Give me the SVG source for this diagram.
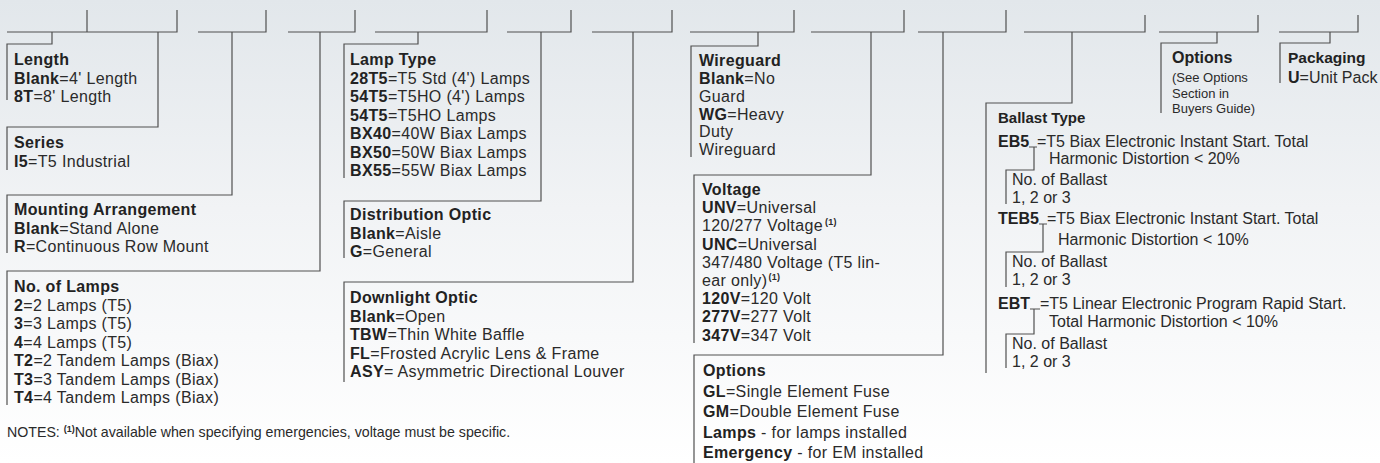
<svg xmlns="http://www.w3.org/2000/svg" width="1380" height="463" viewBox="0 0 1380 463">
<defs>
<linearGradient id="bg" x1="0" y1="0" x2="0" y2="1">
<stop offset="0" stop-color="#e2e7eb"/>
<stop offset="0.45" stop-color="#f1f3f5"/>
<stop offset="1" stop-color="#ffffff"/>
</linearGradient>
<style>
text{font-family:"Liberation Sans",Arial,sans-serif;font-size:16px;fill:#2a2a2a}
.w text{letter-spacing:0.35px}
.b{font-weight:bold;fill:#222}
.h{font-weight:bold;fill:#222}
.s{font-size:13px}
.n{font-size:14.2px}
.sup{font-size:9px;font-weight:bold}
.ln{fill:none;stroke:#505050;stroke-width:1.2}
</style>
</defs>
<rect width="1380" height="463" fill="url(#bg)"/>

<g id="connectors" class="ln">
<path d="M7 32H177V10M87 32V10"/>
<path d="M198 32H266V10"/>
<path d="M288 32H355V10"/>
<path d="M375 32H487V10"/>
<path d="M507 32H571V10"/>
<path d="M592 32H672V10"/>
<path d="M690 32H794V10"/>
<path d="M811 32H904V10"/>
<path d="M918 32H1006V10"/>
<path d="M1024 32H1145V15"/>
<path d="M1159 32H1258V15"/>
<path d="M1279 32H1358V15"/>
<path d="M52 32V44H7V100"/>
<path d="M158 32V127H7V170"/>
<path d="M232 32V195H7V253"/>
<path d="M320 32V271H7V405"/>
<path d="M418 32V44H344V178"/>
<path d="M541 32V201H344V258"/>
<path d="M633 32V282H344V382"/>
<path d="M758 32V46H691V157"/>
<path d="M871 32V175H694V343"/>
<path d="M943 32V355H694V463"/>
<path d="M1072 32V103H986V373"/>
<path d="M1217 32V43H1161V113"/>
<path d="M1330 32V43H1280V83"/>
<path d="M1029 147H1037M1034 147V170H1006V204"/>
<path d="M1039 224H1047M1043 224V252H1006V287"/>
<path d="M1030 309H1040M1034 309V334H1006V368"/>
</g>

<g id="length" class="w">
<text x="14" y="65" class="h">Length</text>
<text x="14" y="83.5"><tspan class="b">Blank</tspan>=4' Length</text>
<text x="14" y="102"><tspan class="b">8T</tspan>=8' Length</text>
</g>

<g id="series" class="w">
<text x="14" y="148" class="h">Series</text>
<text x="14" y="166.5"><tspan class="b">I5</tspan>=T5 Industrial</text>
</g>

<g id="mounting" class="w">
<text x="14" y="215" class="h">Mounting Arrangement</text>
<text x="14" y="233.5"><tspan class="b">Blank</tspan>=Stand Alone</text>
<text x="14" y="252"><tspan class="b">R</tspan>=Continuous Row Mount</text>
</g>

<g id="lamps" class="w">
<text x="14" y="292" class="h">No. of Lamps</text>
<text x="14" y="310.5"><tspan class="b">2</tspan>=2 Lamps (T5)</text>
<text x="14" y="329"><tspan class="b">3</tspan>=3 Lamps (T5)</text>
<text x="14" y="347.5"><tspan class="b">4</tspan>=4 Lamps (T5)</text>
<text x="14" y="366"><tspan class="b">T2</tspan>=2 Tandem Lamps (Biax)</text>
<text x="14" y="384.5"><tspan class="b">T3</tspan>=3 Tandem Lamps (Biax)</text>
<text x="14" y="403"><tspan class="b">T4</tspan>=4 Tandem Lamps (Biax)</text>
</g>

<g id="lamptype" class="w">
<text x="350" y="65" class="h">Lamp Type</text>
<text x="350" y="83.5"><tspan class="b">28T5</tspan>=T5 Std (4') Lamps</text>
<text x="350" y="102"><tspan class="b">54T5</tspan>=T5HO (4') Lamps</text>
<text x="350" y="120.5"><tspan class="b">54T5</tspan>=T5HO Lamps</text>
<text x="350" y="139"><tspan class="b">BX40</tspan>=40W Biax Lamps</text>
<text x="350" y="157.5"><tspan class="b">BX50</tspan>=50W Biax Lamps</text>
<text x="350" y="176"><tspan class="b">BX55</tspan>=55W Biax Lamps</text>
</g>

<g id="distribution" class="w">
<text x="350" y="220" class="h">Distribution Optic</text>
<text x="350" y="238.5"><tspan class="b">Blank</tspan>=Aisle</text>
<text x="350" y="257"><tspan class="b">G</tspan>=General</text>
</g>

<g id="downlight" class="w">
<text x="350" y="303" class="h">Downlight Optic</text>
<text x="350" y="321.5"><tspan class="b">Blank</tspan>=Open</text>
<text x="350" y="340"><tspan class="b">TBW</tspan>=Thin White Baffle</text>
<text x="350" y="358.5"><tspan class="b">FL</tspan>=Frosted Acrylic Lens &amp; Frame</text>
<text x="350" y="377"><tspan class="b">ASY</tspan>= Asymmetric Directional Louver</text>
</g>

<g id="wireguard" class="w">
<text x="699" y="66" class="h">Wireguard</text>
<text x="699" y="84"><tspan class="b">Blank</tspan>=No</text>
<text x="699" y="101.5">Guard</text>
<text x="699" y="119.5"><tspan class="b">WG</tspan>=Heavy</text>
<text x="699" y="137">Duty</text>
<text x="699" y="155">Wireguard</text>
</g>

<g id="voltage" class="w">
<text x="702" y="195" class="h">Voltage</text>
<text x="702" y="213"><tspan class="b">UNV</tspan>=Universal</text>
<text x="702" y="231">120/277 Voltage<tspan class="sup" dx="2" dy="-6">(1)</tspan></text>
<text x="702" y="250"><tspan class="b">UNC</tspan>=Universal</text>
<text x="702" y="267.5">347/480 Voltage (T5 lin-</text>
<text x="702" y="285.5">ear only)<tspan class="sup" dx="1" dy="-6">(1)</tspan></text>
<text x="702" y="303.5"><tspan class="b">120V</tspan>=120 Volt</text>
<text x="702" y="322"><tspan class="b">277V</tspan>=277 Volt</text>
<text x="702" y="340.5"><tspan class="b">347V</tspan>=347 Volt</text>
</g>

<g id="options" class="w">
<text x="703" y="376" class="h">Options</text>
<text x="703" y="397"><tspan class="b">GL</tspan>=Single Element Fuse</text>
<text x="703" y="417"><tspan class="b">GM</tspan>=Double Element Fuse</text>
<text x="703" y="437.5"><tspan class="b">Lamps</tspan> - for lamps installed</text>
<text x="703" y="458"><tspan class="b">Emergency</tspan> - for EM installed</text>
</g>

<g id="ballast">
<text x="998" y="123" class="h" style="font-size:15px">Ballast Type</text>
<text x="998" y="147" class="b">EB5</text>
<text x="1037" y="147">=T5 Biax Electronic Instant Start. Total</text>
<text x="1049" y="164">Harmonic Distortion &lt; 20%</text>
<text x="1012" y="185">No. of Ballast</text>
<text x="1012" y="203">1, 2 or 3</text>
<text x="998" y="224" class="b">TEB5</text>
<text x="1047" y="224">=T5 Biax Electronic Instant Start. Total</text>
<text x="1058" y="245">Harmonic Distortion &lt; 10%</text>
<text x="1012" y="267">No. of Ballast</text>
<text x="1012" y="285">1, 2 or 3</text>
<text x="998" y="309" class="b">EBT</text>
<text x="1040" y="309">=T5 Linear Electronic Program Rapid Start.</text>
<text x="1049" y="327">Total Harmonic Distortion &lt; 10%</text>
<text x="1012" y="349">No. of Ballast</text>
<text x="1012" y="367">1, 2 or 3</text>
</g>

<g id="options-guide">
<text x="1172" y="63" class="h">Options</text>
<text x="1172" y="82" class="s">(See Options</text>
<text x="1172" y="98" class="s">Section in</text>
<text x="1172" y="113" class="s">Buyers Guide)</text>
</g>

<g id="packaging">
<text x="1288" y="63" class="h" style="font-size:15.5px">Packaging</text>
<text x="1288" y="83"><tspan class="b">U</tspan>=Unit Pack</text>
</g>

<g id="notes">
<text x="7" y="437" class="n">NOTES: <tspan class="sup" dy="-5">(1)</tspan><tspan dy="5">Not available when specifying emergencies, voltage must be specific.</tspan></text>
</g>
</svg>
